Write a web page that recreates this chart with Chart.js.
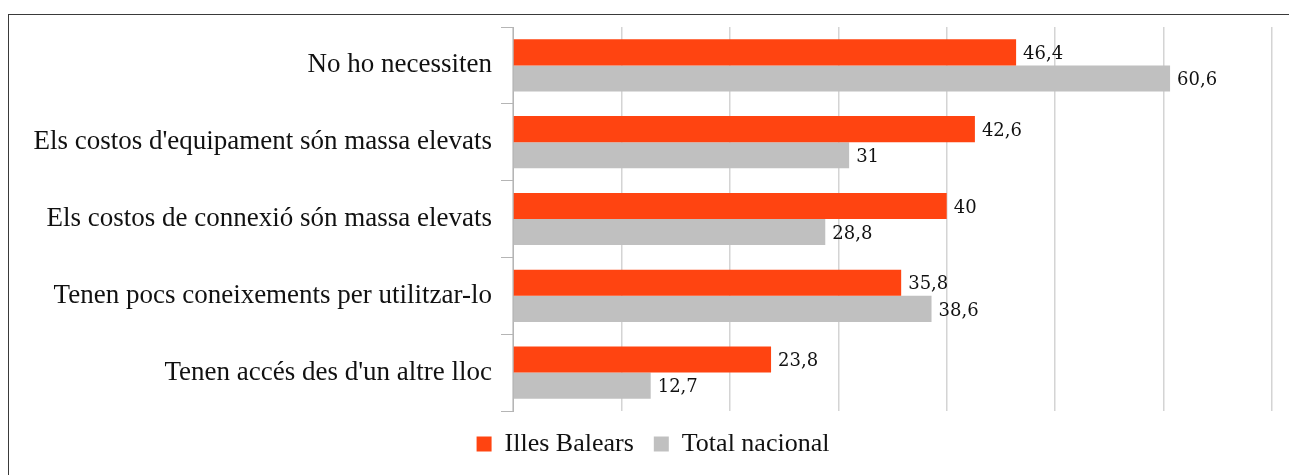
<!DOCTYPE html>
<html>
<head>
<meta charset="utf-8">
<script src="https://cdn.jsdelivr.net/npm/chart.js@4/dist/chart.umd.min.js"></script>
<style>
  html, body { margin: 0; padding: 0; background: #fff; }
  #wrap { position: relative; width: 1289px; height: 475px; overflow: hidden; }
  #frame { position: absolute; left: 8px; top: 14px; width: 1400px; height: 600px;
    border-top: 1px solid #3a3a3a; border-left: 1px solid #3a3a3a; }
  #chart { position: absolute; left: 0; top: 0; }
</style>
</head>
<body>
<div id="wrap">
  <div id="frame"></div>
  <canvas id="chart" width="1289" height="475"></canvas>
</div>
<script>
const categories = [
  'No ho necessiten',
  "Els costos d'equipament són massa elevats",
  'Els costos de connexió són massa elevats',
  'Tenen pocs coneixements per utilitzar-lo',
  "Tenen accés des d'un altre lloc"
]
const illesBalears = [46.4, 42.6, 40, 35.8, 23.8]
const totalNacional = [60.6, 31, 28.8, 38.6, 12.7]

const fmt = v => String(v).replace('.', ',')

const valueLabels = {
  id: 'valueLabels',
  afterDatasetsDraw(chart) {
    const ctx = chart.ctx
    ctx.save()
    ctx.font = '18px "DejaVu Serif"'
    ctx.fillStyle = '#111'
    ctx.textAlign = 'left'
    ctx.textBaseline = 'middle'
    chart.data.datasets.forEach((ds, i) => {
      chart.getDatasetMeta(i).data.forEach((bar, j) => {
        ctx.fillText(fmt(ds.data[j]), bar.x + 7, bar.y + 2)
      })
    })
    ctx.restore()
  }
}

new Chart(document.getElementById('chart'), {
  type: 'bar',
  data: {
    labels: categories,
    datasets: [
      {
        label: 'Illes Balears',
        data: illesBalears,
        backgroundColor: '#ff4411',
        categoryPercentage: 0.68,
        barPercentage: 1
      },
      {
        label: 'Total nacional',
        data: totalNacional,
        backgroundColor: '#c0c0c0',
        categoryPercentage: 0.68,
        barPercentage: 1
      }
    ]
  },
  options: {
    indexAxis: 'y',
    responsive: false,
    animation: false,
    layout: {
      padding: { left: 34, right: 17, top: 27, bottom: 8 }
    },
    scales: {
      x: {
        min: 0,
        max: 70,
        ticks: { display: false, stepSize: 10 },
        grid: { color: '#d4d4d4', lineWidth: 1.5, drawTicks: false },
        border: { display: false }
      },
      y: {
        afterFit: scale => { scale.width = 513 - 34 },
        ticks: {
          color: '#111',
          padding: 9,
          font: { family: '"Liberation Serif"', size: 27 }
        },
        grid: { drawOnChartArea: false, tickLength: 12, color: '#b5b5b5' },
        border: { color: '#b5b5b5' }
      }
    },
    plugins: {
      legend: {
        position: 'bottom',
        labels: {
          boxWidth: 15,
          boxHeight: 15,
          padding: 20,
          color: '#111',
          font: { family: '"Liberation Serif"', size: 26 }
        }
      },
      tooltip: { enabled: false }
    }
  },
  plugins: [valueLabels]
})
</script>
</body>
</html>
